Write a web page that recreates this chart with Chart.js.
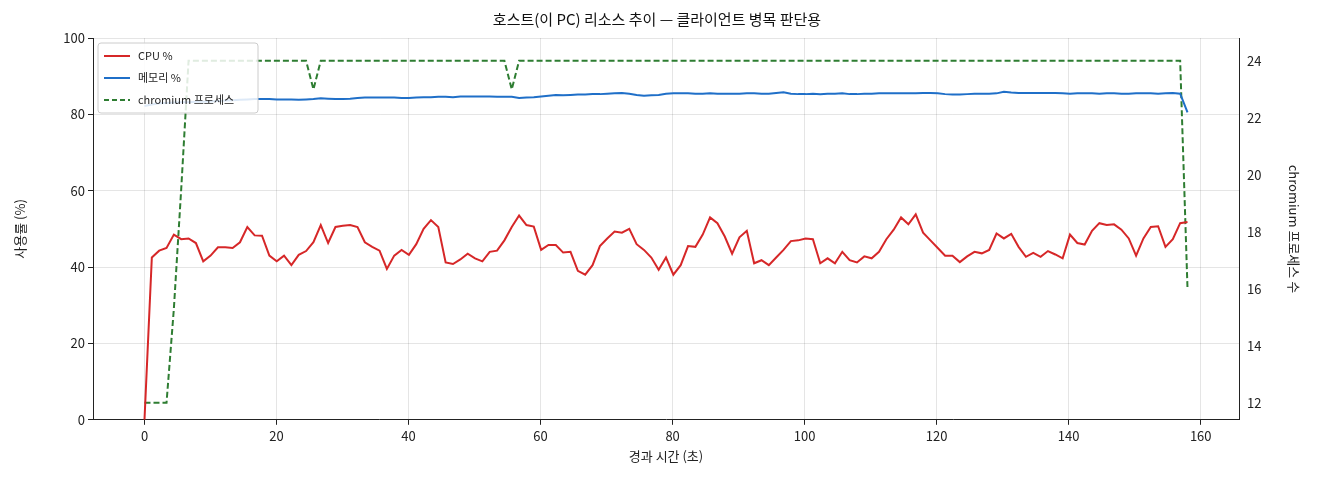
<!DOCTYPE html>
<html><head><meta charset="utf-8">
<script src="https://cdn.jsdelivr.net/npm/chart.js@4"></script>
<style>html,body{margin:0;background:#fff}</style></head>
<body><canvas id="c" width="1320" height="480" style="width:1320px;height:480px"></canvas>
<script>
const cpu=[0,42.5,44.3,45,48.5,47.3,47.5,46.3,41.5,43,
45.2,45.2,45,46.5,50.5,48.3,48.2,43,41.5,43,
40.5,43.2,44.2,46.5,51,46.3,50.5,50.8,51,50.5,
46.5,45.3,44.3,39.5,43,44.5,43.2,46,50,52.3,
50.5,41.2,40.8,42,43.5,42.3,41.5,44,44.3,47,
50.5,53.5,51,50.6,44.5,45.8,45.8,43.8,44,39,
38,40.5,45.5,47.5,49.3,49,50,46,44.5,42.5,
39.3,42.5,38,40.5,45.5,45.3,48.5,53,51.5,48,
43.5,47.8,49.5,41,41.8,40.5,42.5,44.5,46.8,47,
47.5,47.3,41,42.3,41,44,41.8,41.2,42.8,42.3,
44,47.3,49.8,53,51.2,53.8,49,47,45,43,
43,41.3,42.8,44,43.6,44.5,48.8,47.5,48.7,45.3,
42.7,43.7,42.7,44.2,43.3,42.3,48.5,46.3,45.9,49.5,
51.5,51,51.2,49.8,47.5,43,47.5,50.5,50.7,45.3,
47.3,51.5,51.8];
const mem=[82.2,82.6,82.9,83.0,83.1,83.2,83.2,83.3,83.3,83.4,
83.5,83.6,83.7,83.8,83.9,84.0,84.0,84.0,83.9,83.9,
83.9,83.8,83.9,84.0,84.2,84.1,84.0,84.0,84.1,84.3,
84.4,84.4,84.4,84.4,84.4,84.3,84.3,84.4,84.5,84.5,
84.6,84.6,84.5,84.7,84.7,84.7,84.7,84.7,84.6,84.6,
84.6,84.3,84.4,84.5,84.7,84.9,85.1,85.0,85.1,85.2,
85.2,85.3,85.3,85.4,85.5,85.6,85.4,85.1,84.9,85.0,
85.1,85.4,85.5,85.5,85.5,85.4,85.4,85.5,85.4,85.4,
85.4,85.4,85.5,85.5,85.4,85.4,85.6,85.8,85.4,85.3,
85.3,85.4,85.3,85.4,85.4,85.5,85.3,85.3,85.4,85.4,
85.5,85.5,85.5,85.5,85.5,85.5,85.6,85.6,85.5,85.3,
85.2,85.2,85.3,85.4,85.4,85.4,85.5,85.9,85.7,85.6,
85.6,85.6,85.6,85.6,85.6,85.5,85.4,85.5,85.5,85.5,
85.4,85.5,85.5,85.4,85.4,85.5,85.5,85.5,85.4,85.5,
85.6,85.4,80.5];
const procs=[12,12,12,12,15.3,19.5,24,24,24,24,
24,24,24,24,24,24,24,24,24,24,
24,24,24,23,24,24,24,24,24,24,
24,24,24,24,24,24,24,24,24,24,
24,24,24,24,24,24,24,24,24,24,
23,24,24,24,24,24,24,24,24,24,
24,24,24,24,24,24,24,24,24,24,
24,24,24,24,24,24,24,24,24,24,
24,24,24,24,24,24,24,24,24,24,
24,24,24,24,24,24,24,24,24,24,
24,24,24,24,24,24,24,24,24,24,
24,24,24,24,24,24,24,24,24,24,
24,24,24,24,24,24,24,24,24,24,
24,24,24,24,24,24,24,24,24,24,
24,24,16];
const tEnd=158;
const xTicks=[0,20,40,60,80,100,120,140,160];
const yTicks=[0,20,40,60,80,100];
const y2Ticks=[12,14,16,18,20,22,24];
const labels=['CPU %','메모리 %','chromium 프로세스'];
const colors=['#d62728','#1f6fc8','#2e7d32'];
const pts=a=>a.map((v,i)=>({x:i*tEnd/(a.length-1),y:v}));
const F='"Noto Sans CJK KR","DejaVu Sans",sans-serif';
Chart.defaults.font.family=F;Chart.defaults.color='#222';
const legendBox={id:'lb',afterDraw(ch){const c=ch.ctx,a=ch.chartArea;const x=a.left+5,y=a.top+5;
c.save();c.fillStyle='rgba(255,255,255,0.85)';c.strokeStyle='#ccc';c.lineWidth=1;
c.beginPath();c.roundRect(x,y,160,70,3);c.fill();c.stroke();
c.font='11px '+F;c.textBaseline='middle';
labels.forEach((l,i)=>{const yy=y+13+i*22;c.strokeStyle=colors[i];c.lineWidth=2;c.setLineDash(i==2?[5,3]:[]);
c.beginPath();c.moveTo(x+6,yy);c.lineTo(x+32,yy);c.stroke();c.setLineDash([]);c.fillStyle='#222';c.fillText(l,x+40,yy);});
c.restore();}};
const fixT=arr=>(s)=>{s.ticks=arr.map(v=>({value:v}));};
new Chart(document.getElementById('c'),{type:'line',
data:{datasets:[
{label:labels[0],data:pts(cpu),borderColor:colors[0],borderWidth:2,pointRadius:0,yAxisID:'y'},
{label:labels[1],data:pts(mem),borderColor:colors[1],borderWidth:2,pointRadius:0,yAxisID:'y'},
{label:labels[2],data:pts(procs),borderColor:colors[2],borderWidth:2,borderDash:[6,3],pointRadius:0,yAxisID:'y2'}]},
options:{responsive:false,animation:false,maintainAspectRatio:false,devicePixelRatio:1,
layout:{padding:{left:8,right:14,top:6,bottom:12}},
plugins:{legend:{display:false},tooltip:{enabled:false},
title:{display:true,text:'호스트(이 PC) 리소스 추이 — 클라이언트 병목 판단용',font:{size:15,weight:'normal'},color:'#111',padding:{top:4,bottom:10}}},
scales:{
x:{type:'linear',min:-7.8,max:165.8,afterBuildTicks:fixT(xTicks),
grid:{color:'rgba(0,0,0,0.1)',tickColor:'#222',tickLength:5},border:{color:'#222'},
ticks:{font:{size:13},maxRotation:0,autoSkip:false},title:{display:true,text:'경과 시간 (초)',font:{size:13},padding:{top:2}}},
y:{min:0,max:100,afterBuildTicks:fixT(yTicks),afterFit:s=>{s.width=85;},
grid:{color:'rgba(0,0,0,0.1)',tickColor:'#222',tickLength:5},border:{color:'#222'},
ticks:{font:{size:13},autoSkip:false},title:{display:true,text:'사용률 (%)',font:{size:13}}},
y2:{position:'right',min:11.4,max:24.8,afterBuildTicks:fixT(y2Ticks),afterFit:s=>{s.width=67;},
grid:{display:false,tickColor:'#222',tickLength:5},border:{color:'#222'},
ticks:{font:{size:13},autoSkip:false},title:{display:true,text:'chromium 프로세스 수',font:{size:13}}}}},
plugins:[legendBox]});
</script></body></html>
